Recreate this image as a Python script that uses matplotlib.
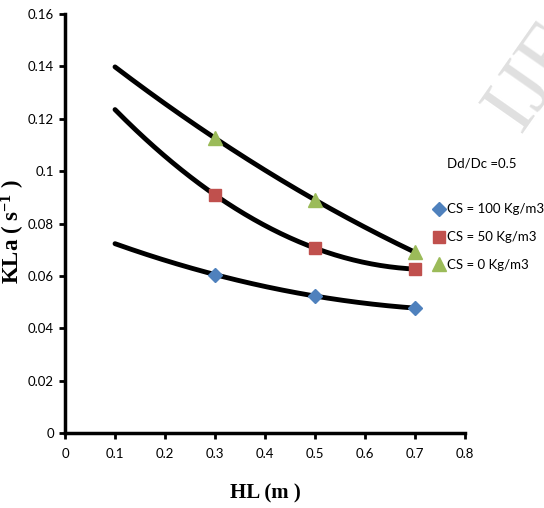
import numpy as np
import matplotlib
matplotlib.use("Agg")
import matplotlib.pyplot as plt

hl = [0.3, 0.5, 0.7]
cs100 = [0.0605, 0.0523, 0.0477]
cs50 = [0.0909, 0.0706, 0.0626]
cs0 = [0.1126, 0.0890, 0.0690]
series_labels = ["CS = 100 Kg/m3", "CS = 50 Kg/m3", "CS = 0 Kg/m3"]
xticks = [0, 0.1, 0.2, 0.3, 0.4, 0.5, 0.6, 0.7, 0.8]
yticks = [0, 0.02, 0.04, 0.06, 0.08, 0.1, 0.12, 0.14, 0.16]

plt.rcParams['mathtext.fontset'] = 'custom'
plt.rcParams['mathtext.rm'] = 'Liberation Serif:bold'
plt.rcParams['mathtext.it'] = 'Liberation Serif:bold'
plt.rcParams['mathtext.bf'] = 'Liberation Serif:bold'

fig = plt.figure(figsize=(5.44, 5.08), dpi=100)
ax = fig.add_axes([0.1195, 0.1476, 0.7355, 0.8248])

tick_font = ['Lato', 'DejaVu Sans']
tsize = 9.5

# trend lines (2nd order polynomial, extended backward to 0.1)
xs = np.linspace(0.1, 0.7, 200)
for ys in (cs100, cs50, cs0):
    c = np.polyfit(hl, ys, 2)
    ax.plot(xs, np.polyval(c, xs), color='black', lw=3.5, zorder=2, solid_capstyle='round')

ax.plot(hl, cs100, linestyle='none', marker='D', ms=7, color='#4F81BD', label=series_labels[0], zorder=3)
ax.plot(hl, cs50, linestyle='none', marker='s', ms=9, color='#C0504D', label=series_labels[1], zorder=3)
ax.plot(hl, cs0, linestyle='none', marker='^', ms=10, color='#9BBB59', label=series_labels[2], zorder=3)

ax.set_xlim(0, 0.8)
ax.set_ylim(0, 0.16)
ax.set_xticks(xticks)
ax.set_yticks(yticks)
ax.set_xticklabels([f"{v:g}" for v in xticks], family=tick_font, fontsize=tsize)
ax.set_yticklabels([f"{v:g}" for v in yticks], family=tick_font, fontsize=tsize)
ax.tick_params(direction='out', length=4, width=2, colors='black')
ax.tick_params(axis='x', pad=7)
ax.tick_params(axis='y', pad=4)
for s in ('top', 'right'):
    ax.spines[s].set_visible(False)
for s in ('left', 'bottom'):
    ax.spines[s].set_linewidth(2.5)

ax.set_xlabel("HL (m )", family='Liberation Serif', fontweight='bold', fontsize=15)
ax.xaxis.set_label_coords(0.5, -0.12)
ax.set_ylabel(r"KLa ( s$^{-1}$ )", family='Liberation Serif', fontweight='bold', fontsize=16.5)
ax.yaxis.set_label_coords(-0.095, 0.48)

leg = ax.legend(loc='upper left', bbox_to_anchor=(0.925, 0.548), frameon=False,
                prop={'family': tick_font, 'size': tsize}, handlelength=0.6,
                handletextpad=0.3, labelspacing=1.2, borderaxespad=0, borderpad=0)
leg.set_clip_on(False)

fig.text(0.822, 0.679, "Dd/Dc =0.5", family=tick_font, fontsize=tsize, ha='left', va='center')

# faint watermark
fig.text(0.985, 0.85, "IJE", family='Liberation Serif', fontsize=60, color='#d8d8d8',
         rotation=55, ha='center', va='center', alpha=0.8, zorder=0)

fig.savefig("out.png", dpi=100)
